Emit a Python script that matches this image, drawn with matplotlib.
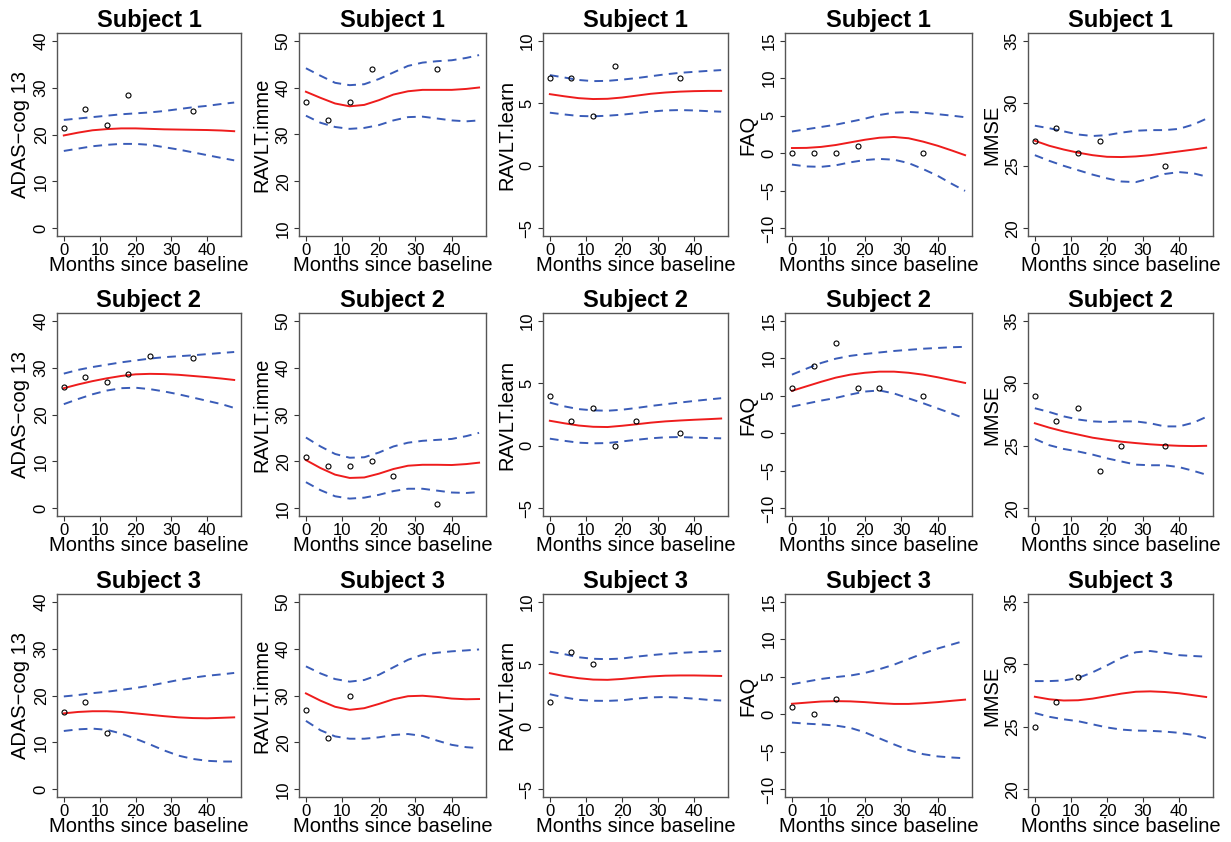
import matplotlib
matplotlib.use('Agg')
import matplotlib.pyplot as plt

plt.rcParams['font.family'] = ['Liberation Sans', 'DejaVu Sans']

curve_months = [0, 4, 8, 12, 16, 20, 24, 28, 32, 36, 40, 44, 47.5]

# observation months per subject
obs_months = [
    [0, 6, 12, 18, 36],
    [0, 6, 12, 18, 24, 36],
    [0, 6, 12],
]

subjects = ['Subject 1', 'Subject 2', 'Subject 3']
measures = ['ADAS\u2212cog 13', 'RAVLT.imme', 'RAVLT.learn', 'FAQ', 'MMSE']
y_limits = [(0, 40), (10, 50), (-5, 10), (-10, 15), (20, 35)]
y_ticks = [[0, 10, 20, 30, 40], [10, 20, 30, 40, 50], [-5, 0, 5, 10],
           [-10, -5, 0, 5, 10, 15], [20, 25, 30, 35]]

# ADAS-cog 13
adas_obs = [
    [21.4, 25.4, 22.1, 28.4, 25.1],
    [25.8, 28.0, 27.0, 28.7, 32.4, 32.0],
    [16.4, 18.7, 12.0],
]
adas_mean = [
    [19.8, 20.4, 20.9, 21.15, 21.3, 21.3, 21.2, 21.1, 21.05, 21.0, 20.95, 20.85, 20.7],
    [25.6, 26.4, 27.1, 27.7, 28.2, 28.55, 28.65, 28.6, 28.45, 28.2, 27.95, 27.65, 27.35],
    [16.2, 16.5, 16.65, 16.65, 16.5, 16.2, 15.9, 15.6, 15.35, 15.2, 15.15, 15.25, 15.35],
]
adas_upper = [
    [23.1, 23.4, 23.7, 24.0, 24.3, 24.5, 24.7, 25.0, 25.4, 25.8, 26.1, 26.5, 26.8],
    [28.7, 29.5, 30.1, 30.6, 31.1, 31.5, 31.9, 32.2, 32.4, 32.6, 32.85, 33.1, 33.3],
    [19.8, 20.1, 20.5, 20.8, 21.2, 21.6, 22.1, 22.7, 23.3, 23.8, 24.2, 24.5, 24.8],
]
adas_lower = [
    [16.5, 17.0, 17.5, 17.8, 18.0, 18.0, 17.8, 17.3, 16.8, 16.2, 15.6, 15.0, 14.5],
    [22.2, 23.3, 24.3, 25.1, 25.6, 25.7, 25.4, 24.9, 24.3, 23.6, 22.9, 22.2, 21.4],
    [12.45, 12.8, 12.95, 12.7, 11.9, 10.8, 9.6, 8.3, 7.2, 6.5, 6.1, 5.95, 5.95],
]

# RAVLT immediate
imme_obs = [
    [37, 33, 37, 44, 44],
    [21, 19, 19, 20, 17, 11],
    [27, 21, 30],
]
imme_mean = [
    [39.1, 37.8, 36.6, 36.0, 36.3, 37.3, 38.5, 39.2, 39.5, 39.5, 39.5, 39.7, 40.0],
    [20.3, 18.6, 17.2, 16.5, 16.6, 17.4, 18.4, 19.1, 19.3, 19.3, 19.25, 19.45, 19.75],
    [30.45, 28.9, 27.6, 26.95, 27.3, 28.2, 29.2, 29.85, 29.95, 29.7, 29.35, 29.2, 29.25],
]
imme_upper = [
    [44.1, 42.5, 41.0, 40.5, 40.7, 41.8, 43.2, 44.6, 45.3, 45.6, 45.8, 46.3, 46.9],
    [25.1, 23.2, 21.6, 20.8, 20.9, 21.9, 23.2, 24.0, 24.4, 24.6, 24.8, 25.4, 26.1],
    [36.2, 34.7, 33.5, 32.95, 33.3, 34.4, 36.0, 37.6, 38.7, 39.1, 39.4, 39.6, 39.8],
]
imme_lower = [
    [34.0, 32.5, 31.6, 31.2, 31.4, 32.0, 33.0, 33.7, 33.8, 33.4, 33.0, 32.8, 33.0],
    [15.6, 13.9, 12.6, 12.1, 12.3, 12.9, 13.7, 14.2, 14.2, 13.8, 13.4, 13.3, 13.5],
    [24.6, 22.6, 21.3, 20.8, 20.8, 21.1, 21.6, 21.8, 21.4, 20.4, 19.5, 19.0, 18.8],
]

# RAVLT learning
learn_obs = [
    [7, 7, 4, 8, 7],
    [4, 2, 3, 0, 2, 1],
    [2, 6, 5],
]
learn_mean = [
    [5.72, 5.55, 5.4, 5.33, 5.35, 5.45, 5.6, 5.75, 5.85, 5.92, 5.96, 5.98, 5.98],
    [2.0, 1.8, 1.62, 1.52, 1.5, 1.6, 1.72, 1.85, 1.95, 2.02, 2.08, 2.13, 2.18],
    [4.28, 4.05, 3.88, 3.77, 3.75, 3.82, 3.93, 4.02, 4.08, 4.1, 4.1, 4.08, 4.06],
]
learn_upper = [
    [7.24, 7.05, 6.85, 6.76, 6.78, 6.88, 7.0, 7.15, 7.3, 7.42, 7.5, 7.58, 7.64],
    [3.45, 3.15, 2.93, 2.83, 2.8, 2.88, 3.02, 3.18, 3.32, 3.45, 3.58, 3.7, 3.8],
    [6.0, 5.8, 5.55, 5.43, 5.4, 5.45, 5.6, 5.72, 5.82, 5.9, 5.96, 6.0, 6.05],
]
learn_lower = [
    [4.24, 4.1, 3.98, 3.95, 4.0, 4.08, 4.2, 4.33, 4.42, 4.45, 4.42, 4.36, 4.32],
    [0.57, 0.4, 0.25, 0.2, 0.22, 0.35, 0.48, 0.6, 0.68, 0.7, 0.66, 0.62, 0.6],
    [2.6, 2.35, 2.15, 2.08, 2.07, 2.12, 2.25, 2.35, 2.38, 2.33, 2.25, 2.15, 2.1],
]

# FAQ
faq_obs = [
    [0, 0, 0, 1, 0],
    [6, 9, 12, 6, 6, 5],
    [1, 0, 2],
]
faq_mean = [
    [0.7, 0.72, 0.85, 1.1, 1.45, 1.8, 2.07, 2.17, 2.0, 1.55, 1.0, 0.35, -0.25],
    [5.65, 6.25, 6.85, 7.4, 7.8, 8.05, 8.2, 8.2, 8.05, 7.8, 7.45, 7.05, 6.7],
    [1.4, 1.55, 1.7, 1.75, 1.72, 1.62, 1.48, 1.38, 1.38, 1.48, 1.62, 1.8, 1.95],
]
faq_upper = [
    [2.9, 3.2, 3.5, 3.8, 4.2, 4.6, 5.1, 5.4, 5.5, 5.4, 5.2, 5.0, 4.8],
    [7.8, 8.6, 9.35, 9.92, 10.3, 10.55, 10.75, 10.95, 11.1, 11.25, 11.35, 11.45, 11.5],
    [4.0, 4.35, 4.7, 4.95, 5.15, 5.5, 6.0, 6.6, 7.35, 8.1, 8.75, 9.3, 9.8],
]
faq_lower = [
    [-1.5, -1.75, -1.8, -1.6, -1.2, -0.9, -0.75, -0.85, -1.3, -2.1, -3.0, -4.1, -5.0],
    [3.55, 3.95, 4.35, 4.7, 5.15, 5.55, 5.7, 5.3, 4.65, 4.0, 3.3, 2.6, 1.95],
    [-1.1, -1.25, -1.35, -1.5, -1.8, -2.4, -3.2, -4.0, -4.75, -5.3, -5.6, -5.75, -5.85],
]

# MMSE
mmse_obs = [
    [27, 28, 26, 27, 25],
    [29, 27, 28, 23, 25, 25],
    [25, 27, 29],
]
mmse_mean = [
    [27.0, 26.6, 26.3, 26.05, 25.85, 25.72, 25.7, 25.75, 25.85, 26.0, 26.15, 26.3, 26.45],
    [26.8, 26.45, 26.15, 25.9, 25.65, 25.48, 25.33, 25.22, 25.12, 25.05, 25.0, 24.98, 25.0],
    [27.4, 27.2, 27.1, 27.12, 27.25, 27.45, 27.65, 27.8, 27.83, 27.78, 27.68, 27.52, 27.38],
]
mmse_upper = [
    [28.2, 28.0, 27.75, 27.5, 27.38, 27.45, 27.65, 27.8, 27.85, 27.85, 27.95, 28.3, 28.75],
    [28.0, 27.7, 27.35, 27.1, 26.95, 26.9, 26.95, 26.95, 26.8, 26.55, 26.55, 26.85, 27.3],
    [28.65, 28.65, 28.7, 28.9, 29.35, 29.9, 30.5, 30.95, 31.05, 30.9, 30.72, 30.65, 30.6],
]
mmse_lower = [
    [25.85, 25.4, 25.0, 24.65, 24.3, 24.0, 23.75, 23.7, 24.0, 24.35, 24.5, 24.4, 24.15],
    [25.55, 25.05, 24.75, 24.55, 24.3, 24.0, 23.75, 23.5, 23.45, 23.45, 23.3, 23.0, 22.7],
    [26.1, 25.8, 25.6, 25.45, 25.2, 24.95, 24.78, 24.7, 24.68, 24.62, 24.52, 24.35, 24.1],
]

obs_all = [adas_obs, imme_obs, learn_obs, faq_obs, mmse_obs]
mean_all = [adas_mean, imme_mean, learn_mean, faq_mean, mmse_mean]
upper_all = [adas_upper, imme_upper, learn_upper, faq_upper, mmse_upper]
lower_all = [adas_lower, imme_lower, learn_lower, faq_lower, mmse_lower]

W, H = 1231, 842
col_left = [57, 299, 543, 785, 1028]
col_right = [241, 486, 728, 972, 1213]
row_top = [33, 313, 594]
row_bottom = [236, 516, 797]

fig = plt.figure(figsize=(W / 100, H / 100), dpi=100)

for r in range(3):
    for c in range(5):
        x0, x1 = col_left[c], col_right[c]
        y0, y1 = row_top[r], row_bottom[r]
        ax = fig.add_axes([x0 / W, 1 - y1 / H, (x1 - x0) / W, (y1 - y0) / H])

        ax.plot(curve_months, upper_all[c][r], color='#3a5cb8', lw=1.4,
                dashes=(4.5, 3.2))
        ax.plot(curve_months, lower_all[c][r], color='#3a5cb8', lw=1.4,
                dashes=(4.5, 3.2))
        ax.plot(curve_months, mean_all[c][r], color='#ee1c1c', lw=1.4)
        ax.plot(obs_months[r], obs_all[c][r], 'o', mfc='none', mec='black',
                ms=3.6, mew=0.8)

        lo, hi = y_limits[c]
        pad = 0.04 * (hi - lo)
        ax.set_ylim(lo - pad, hi + pad)
        ax.set_xlim(-1.9, 49.4)
        ax.set_xticks([0, 10, 20, 30, 40])
        ax.set_yticks(y_ticks[c])

        for sp in ax.spines.values():
            sp.set_color('#555555')
            sp.set_linewidth(1.0)
        ax.tick_params(direction='out', length=3.5, width=0.8, color='#333333',
                       labelsize=12, pad=1.5)
        ax.tick_params(axis='y', pad=2.5)
        for lbl in ax.get_yticklabels():
            lbl.set_rotation(90)
            lbl.set_va('center')

        ax.set_title(subjects[r], fontsize=17, fontweight='bold', pad=4.5)
        ax.set_xlabel('Months since baseline', fontsize=14.5, va='center')
        ax.xaxis.set_label_coords(0.5, -0.143)
        ax.set_ylabel(measures[c], fontsize=14.5, va='center')
        ax.yaxis.set_label_coords(-0.196, 0.5)

fig.savefig('out.png', dpi=100)
